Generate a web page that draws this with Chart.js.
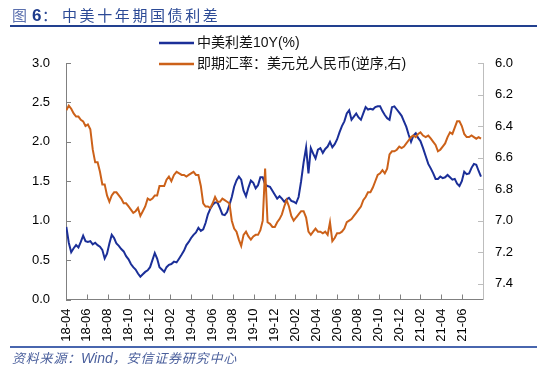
<!DOCTYPE html>
<html>
<head>
<meta charset="utf-8">
<script src="https://cdn.jsdelivr.net/npm/chart.js@4.4.1/dist/chart.umd.min.js"></script>
<style>
  body { margin: 0; background: #fff; }
  #wrap { position: relative; width: 550px; height: 373px; overflow: hidden; }
  #c { position: absolute; left: 0; top: 0; }
  .t { position: absolute; white-space: nowrap; line-height: 16px; top: 7px; }
  .cjk { font-family: "Noto Sans CJK SC", sans-serif; font-size: 15px; color: #2c4a96; }
  .rule { position: absolute; left: 10px; width: 527px; }
  #src { position: absolute; left: 12px; top: 351px; line-height: 14px; font-size: 13px; letter-spacing: 0.8px;
         font-style: italic; color: #4a5f9c; font-family: "Noto Sans CJK SC", sans-serif; white-space: nowrap; }
  #src b { font-family: "Liberation Sans", Arial, sans-serif; font-weight: normal; font-size: 14px; letter-spacing: 0; }
</style>
</head>
<body>
<div id="wrap">
  <canvas id="c" width="550" height="373"></canvas>
  <span class="t cjk" style="left:12px;color:#5a6fae">图</span>
  <span class="t" style="left:32px;top:6px;font:bold 17px 'Liberation Sans',Arial,sans-serif;color:#1f3c8c">6</span>
  <span class="t cjk" style="left:42px">：</span>
  <span class="t cjk" style="left:62px;letter-spacing:2.6px">中美十年期国债利差</span>
  <div class="rule" style="top:25px;height:2px;background:#22408f"></div>
  <div class="rule" style="top:346px;height:1.5px;background:#4866ae"></div>
  <div id="src">资料来源：<b>Wind</b>，安信证券研究中心</div>
</div>
<script>
// 周度数据，从 2018-04-02 开始
const firstWeek = '2018-04-02';

// 中美利差10Y(%)，左轴
const spread = [
  0.92, 0.72, 0.60, 0.65, 0.69, 0.66, 0.73, 0.81, 0.74, 0.73,
  0.74, 0.70, 0.72, 0.69, 0.67, 0.63, 0.52, 0.58, 0.71, 0.82,
  0.78, 0.71, 0.68, 0.64, 0.61, 0.55, 0.51, 0.45, 0.41, 0.38,
  0.33, 0.29, 0.32, 0.35, 0.37, 0.41, 0.50, 0.59, 0.52, 0.41,
  0.38, 0.35, 0.41, 0.44, 0.45, 0.48, 0.47, 0.52, 0.57, 0.62,
  0.69, 0.73, 0.78, 0.82, 0.85, 0.91, 0.87, 0.89, 0.97, 1.08,
  1.15, 1.20, 1.23, 1.23, 1.16, 1.08, 1.07, 1.11, 1.20, 1.30,
  1.43, 1.51, 1.56, 1.52, 1.38, 1.31, 1.42, 1.51, 1.48, 1.41,
  1.45, 1.55, 1.55, 1.46, 1.44, 1.43, 1.38, 1.33, 1.28, 1.31,
  1.28, 1.24, 1.27, 1.29, 1.25, 1.24, 1.22, 1.30, 1.50, 1.74,
  1.93, 1.60, 1.92, 1.85, 1.79, 1.90, 1.92, 1.86, 1.91, 1.94,
  2.00, 1.93, 1.97, 2.03, 2.12, 2.20, 2.26, 2.36, 2.40, 2.28,
  2.32, 2.36, 2.31, 2.28, 2.36, 2.44, 2.41, 2.42, 2.41, 2.44,
  2.45, 2.45, 2.39, 2.34, 2.30, 2.28, 2.44, 2.45, 2.41, 2.37,
  2.33, 2.26, 2.19, 2.09, 2.00, 2.08, 2.11, 2.05, 2.01, 1.92,
  1.82, 1.72, 1.66, 1.60, 1.53, 1.53, 1.56, 1.54, 1.55, 1.58,
  1.55, 1.52, 1.53, 1.47, 1.44, 1.50, 1.62, 1.59, 1.60, 1.67,
  1.72, 1.71, 1.63, 1.56
];

// 即期汇率：美元兑人民币，右轴逆序
const usdcny = [
  6.30, 6.27, 6.29, 6.32, 6.34, 6.34, 6.36, 6.37, 6.40, 6.39,
  6.42, 6.55, 6.63, 6.63, 6.69, 6.77, 6.77, 6.84, 6.88, 6.84,
  6.82, 6.82, 6.84, 6.86, 6.89, 6.89, 6.91, 6.93, 6.95, 6.94,
  6.92, 6.97, 6.94, 6.91, 6.86, 6.87, 6.86, 6.84, 6.84, 6.78,
  6.78, 6.78, 6.74, 6.72, 6.75, 6.71, 6.69, 6.70, 6.71, 6.71,
  6.72, 6.71, 6.70, 6.69, 6.71, 6.71, 6.78, 6.89, 6.91, 6.91,
  6.92, 6.89, 6.85, 6.88, 6.88, 6.86, 6.87, 6.88, 6.89, 7.00,
  7.05, 7.07, 7.12, 7.16, 7.09, 7.07, 7.10, 7.12, 7.10, 7.09,
  7.09, 7.06, 7.00, 6.67, 7.01, 7.02, 7.04, 7.04, 7.01, 6.99,
  6.96, 6.91, 6.87, 6.91, 6.97, 7.00, 6.98, 6.96, 6.94, 6.94,
  6.98, 7.07, 7.09, 7.07, 7.05, 7.07, 7.07, 7.08, 7.07, 7.09,
  7.01, 7.13, 7.11, 7.08, 7.08, 7.07, 7.05, 7.01, 7.00, 6.99,
  6.97, 6.95, 6.93, 6.91, 6.87, 6.85, 6.82, 6.82, 6.79, 6.75,
  6.71, 6.70, 6.68, 6.70, 6.67, 6.58, 6.56, 6.56, 6.55, 6.53,
  6.54, 6.53, 6.51, 6.49, 6.47, 6.46, 6.47, 6.45, 6.44, 6.46,
  6.47, 6.46, 6.48, 6.50, 6.52, 6.56, 6.55, 6.53, 6.51, 6.47,
  6.44, 6.45, 6.41, 6.37, 6.37, 6.40, 6.45, 6.47, 6.47, 6.46,
  6.47, 6.48, 6.47, 6.48
];

const seriesNames = ['中美利差10Y(%)', '即期汇率：美元兑人民币(逆序,右)'];
const leftTicks = [0.0, 0.5, 1.0, 1.5, 2.0, 2.5, 3.0];
const rightTicks = [6.0, 6.2, 6.4, 6.6, 6.8, 7.0, 7.2, 7.4];

// x 轴用 "自 2018-04 起的月数"
const t0 = new Date(firstWeek + 'T00:00:00Z');
function monthPos(d) {
  const dim = new Date(Date.UTC(d.getUTCFullYear(), d.getUTCMonth() + 1, 0)).getUTCDate();
  return (d.getUTCFullYear() - 2018) * 12 + d.getUTCMonth() - 3 + (d.getUTCDate() - 1) / dim;
}
const xs = spread.map((_, i) => monthPos(new Date(t0.getTime() + i * 7 * 86400000)));
function monthLabel(v) {
  const m = 3 + Math.round(v);
  const yy = 18 + Math.floor(m / 12);
  const mm = (m % 12) + 1;
  return yy + '-' + (mm < 10 ? '0' + mm : mm);
}

const tickFont = { family: '"Liberation Sans", Arial, sans-serif', size: 13 };

// 刻度线朝内
const innerTicks = {
  id: 'innerTicks',
  afterDraw(chart) {
    const { ctx, chartArea: a, scales } = chart;
    ctx.save();
    ctx.lineWidth = 1;
    ctx.strokeStyle = '#808080';
    ctx.beginPath();
    scales.x.ticks.forEach(t => {
      const p = Math.round(scales.x.getPixelForValue(t.value)) + 0.5;
      ctx.moveTo(p, a.bottom); ctx.lineTo(p, a.bottom - 5);
    });
    scales.y.ticks.forEach(t => {
      const p = Math.round(scales.y.getPixelForValue(t.value)) + 0.5;
      ctx.moveTo(a.left, p); ctx.lineTo(a.left + 5, p);
    });
    ctx.stroke();
    ctx.strokeStyle = '#bdbdbd';
    ctx.beginPath();
    scales.y1.ticks.forEach(t => {
      const p = Math.round(scales.y1.getPixelForValue(t.value)) + 0.5;
      ctx.moveTo(a.right, p); ctx.lineTo(a.right - 5, p);
    });
    ctx.stroke();
    ctx.restore();
  }
};

// 图例
const lineLegend = {
  id: 'lineLegend',
  afterDraw(chart) {
    const ctx = chart.ctx;
    ctx.save();
    chart.data.datasets.forEach((ds, i) => {
      const y = 43 + i * 21;
      ctx.strokeStyle = ds.borderColor;
      ctx.lineWidth = 2.5;
      ctx.beginPath(); ctx.moveTo(159, y); ctx.lineTo(194, y); ctx.stroke();
      ctx.fillStyle = '#111';
      ctx.font = '14px "Liberation Sans", "Noto Sans CJK SC", sans-serif';
      ctx.textBaseline = 'middle';
      ctx.fillText(ds.label, 197, y);
    });
    ctx.restore();
  }
};

new Chart(document.getElementById('c'), {
  type: 'line',
  data: {
    datasets: [{
      label: seriesNames[0],
      data: spread.map((v, i) => ({ x: xs[i], y: v })),
      yAxisID: 'y',
      borderColor: '#1b2f98',
      borderWidth: 2,
      pointRadius: 0,
      order: 1
    }, {
      label: seriesNames[1],
      data: usdcny.map((v, i) => ({ x: xs[i], y: v })),
      yAxisID: 'y1',
      borderColor: '#cc6119',
      borderWidth: 2,
      pointRadius: 0,
      order: 0
    }]
  },
  options: {
    responsive: false,
    animation: false,
    devicePixelRatio: 1,
    layout: { padding: { top: 63, left: 0, right: 0, bottom: 0 } },
    plugins: { legend: { display: false }, tooltip: { enabled: false } },
    scales: {
      x: {
        type: 'linear', min: 0, max: 40,
        grid: { display: false, drawTicks: false },
        border: { color: '#808080' },
        ticks: { stepSize: 2, autoSkip: false, minRotation: 90, maxRotation: 90, padding: 9,
                 font: tickFont, color: '#000', callback: v => monthLabel(v) },
        afterBuildTicks: s => { s.ticks = s.ticks.filter(t => t.value <= 38); },
        afterFit: s => { s.height = 73.5; }
      },
      y: {
        position: 'left', min: 0, max: 3,
        grid: { display: false, drawTicks: false },
        border: { color: '#808080' },
        ticks: { padding: 16, font: tickFont, color: '#000', callback: v => v.toFixed(1) },
        afterBuildTicks: s => { s.ticks = leftTicks.map(v => ({ value: v })); },
        afterFit: s => { s.width = 66; }
      },
      y1: {
        position: 'right', min: 6, max: 7.5, reverse: true,
        grid: { display: false, drawTicks: false },
        border: { color: '#bdbdbd' },
        ticks: { padding: 12, font: tickFont, color: '#000', callback: v => v.toFixed(1) },
        afterBuildTicks: s => { s.ticks = rightTicks.map(v => ({ value: v })); },
        afterFit: s => { s.width = 67; }
      }
    }
  },
  plugins: [innerTicks, lineLegend]
});
</script>
</body>
</html>
